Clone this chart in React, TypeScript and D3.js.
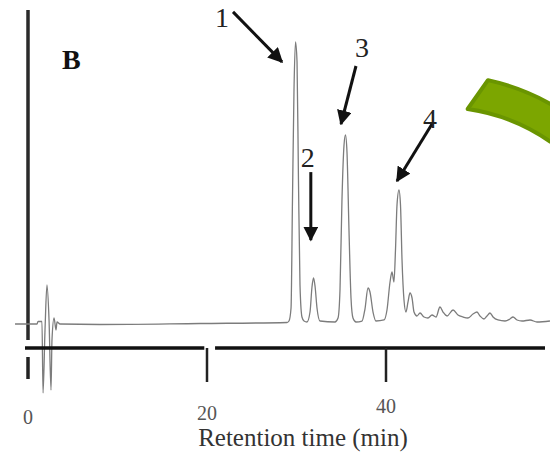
import React from 'react'
import * as d3 from 'd3'

// retention time (min) and detector signal (arbitrary units)
const traceTime = [
  -1.45, 1.01, 1.12, 1.56, 1.68, 1.9, 2.12, 2.35, 2.57, 2.68, 2.91, 3.13, 3.24, 3.58,
  8.04, 19.22, 28.94,
  29.16, 29.39, 29.55, 29.72, 29.89, 30.06, 30.22, 30.39, 30.61, 30.84, 31.17,
  31.51, 31.73, 31.9, 32.07, 32.29, 32.63, 34.3,
  34.64, 34.86, 35.08, 35.31, 35.47, 35.64, 35.87, 36.09, 36.31, 36.65, 37.32,
  37.65, 37.99, 38.21, 38.55, 38.88, 39.78,
  40.11, 40.45, 40.67, 40.89, 41.06, 41.23, 41.45, 41.62, 41.79, 42.01, 42.23, 42.46,
  42.68, 42.91, 43.13, 43.46, 43.8, 44.25, 44.69, 45.14, 45.59, 46.03, 46.37, 46.82,
  47.49, 48.04, 48.6, 49.16, 49.72, 50.17, 50.5, 50.95, 51.28, 51.62, 51.96, 52.51,
  53.3, 53.85, 54.19, 54.64, 55.2, 56.09, 56.87, 58.32,
]
const traceSignal = [
  5.33, 5.33, 6.17, 6.17, -17.67, 3.33, 18.33, 6.67, -16.67, 0, 7.33, 3.33, 6.0, 5.33,
  5.17, 5.5, 5.83,
  6.33, 10.67, 46.67, 83.33, 99.33, 92.67, 53.33, 18.33, 7.67, 6.33, 6.0,
  9.33, 17.67, 20.67, 18.0, 10.67, 6.33, 6.0,
  7.33, 16.67, 46.67, 65.0, 68.33, 62.67, 36.0, 14.0, 7.33, 6.0, 6.33,
  10.33, 17.33, 16.0, 9.33, 6.33, 6.67,
  10.0, 19.33, 22.67, 19.33, 30.0, 45.0, 50.0, 45.0, 26.67, 13.33, 9.33, 12.67,
  15.67, 14.0, 9.33, 8.0, 9.0, 7.67, 7.33, 8.33, 7.67, 11.0, 9.33, 8.0,
  10.0, 8.33, 7.67, 7.33, 8.67, 9.33, 8.0, 7.0, 8.0, 9.0, 7.67, 6.67,
  6.33, 7.0, 7.67, 6.67, 6.33, 6.67, 6.0, 6.33,
]

const tickValues = [0, 20, 40]
const tickLabels = ['0', '20', '40']

// peak labels: arrow tip in data units
const peakLabels = ['1', '2', '3', '4']
const peakTime = [28.38, 31.6, 34.97, 41.23]
const peakSignal = [92.7, 33.3, 72.0, 53.0]

const W = 550
const H = 457

const App = () => {
  const x = d3.scaleLinear().domain([0, 40]).range([28, 386])
  const y = d3.scaleLinear().domain([0, 110]).range([340, 10])

  const pts: [number, number][] = traceTime.map((t, i) => [t, traceSignal[i]])
  const line = d3.line<[number, number]>()
    .x(d => x(d[0]))
    .y(d => y(d[1]))
    .curve(d3.curveMonotoneX)

  const axisY = 348
  const breakL = x(19.7)
  const breakR = x(20.9)

  // arrow geometry (pixel offsets from the tip to the tail, and label spot)
  const tails = [[-49, -50], [0, -68], [15, -58], [35, -57]]
  const labelPos = [[-60, -35], [-3, -73], [21, -67], [33, -53]]

  // green curved band decoration
  const g = d3.path()
  const cx = 440, cy = 300, rO = 225, rI = 193
  g.moveTo(cx + rO * Math.cos(-1.356), cy + rO * Math.sin(-1.356))
  g.arc(cx, cy, rO, -1.356, -0.5, false)
  g.lineTo(cx + rI * Math.cos(-0.5), cy + rI * Math.sin(-0.5))
  g.arc(cx, cy, rI, -0.5, -1.427, true)
  g.closePath()

  // the scanned axis is slightly tilted, so the labels step up a little
  const labelY = [424, 420, 413]

  return (
    <svg width={W} height={H} style={{ position: 'absolute', left: 0, top: 0, display: 'block', background: '#fff' }}
      fontFamily="'Liberation Serif', 'Times New Roman', serif">
      <defs>
        <marker id="ah" viewBox="0 0 10 10" refX="9" refY="5" markerWidth="5" markerHeight="5"
          markerUnits="strokeWidth" orient="auto">
          <path d="M0,0 L10,5 L0,10 z" fill="#111" />
        </marker>
      </defs>

      <path d={g.toString()} fill="#7ca600" stroke="#6a9500" strokeWidth={4} strokeLinejoin="round" />

      {/* y axis */}
      <line x1={x(0)} x2={x(0)} y1={10} y2={340} stroke="#2a2a2a" strokeWidth={3.5} />

      {/* trace */}
      <path d={line(pts) || ''} fill="none" stroke="#7c7c7c" strokeWidth={1.3} />

      {/* x axis with a break near 20 */}
      <line x1={25} x2={breakL} y1={axisY} y2={axisY} stroke="#111" strokeWidth={3.5} />
      <line x1={breakR} x2={545} y1={axisY} y2={axisY} stroke="#111" strokeWidth={3.5} />
      {tickValues.map((v, i) => (
        <g key={v}>
          <line x1={x(v)} x2={x(v)} y1={v === 0 ? 357 : axisY} y2={v === 0 ? 379 : 382}
            stroke="#222" strokeWidth={v === 0 ? 3.5 : 2.5} />
          <text x={x(v)} y={labelY[i]} textAnchor="middle" fontSize={20} fill="#555">{tickLabels[i]}</text>
        </g>
      ))}
      <text x={303} y={446} textAnchor="middle" fontSize={25} fill="#333">Retention time (min)</text>

      <text x={62} y={69} fontSize={28} fontWeight="bold" fill="#111">B</text>

      {peakLabels.map((lab, i) => {
        const tx = x(peakTime[i]), ty = y(peakSignal[i])
        return (
          <g key={lab}>
            <line x1={tx + tails[i][0]} y1={ty + tails[i][1]} x2={tx} y2={ty}
              stroke="#111" strokeWidth={3} markerEnd="url(#ah)" />
            <text x={tx + labelPos[i][0]} y={ty + labelPos[i][1]} fontSize={28} fill="#222"
              textAnchor="middle">{lab}</text>
          </g>
        )
      })}
    </svg>
  )
}

export default App
